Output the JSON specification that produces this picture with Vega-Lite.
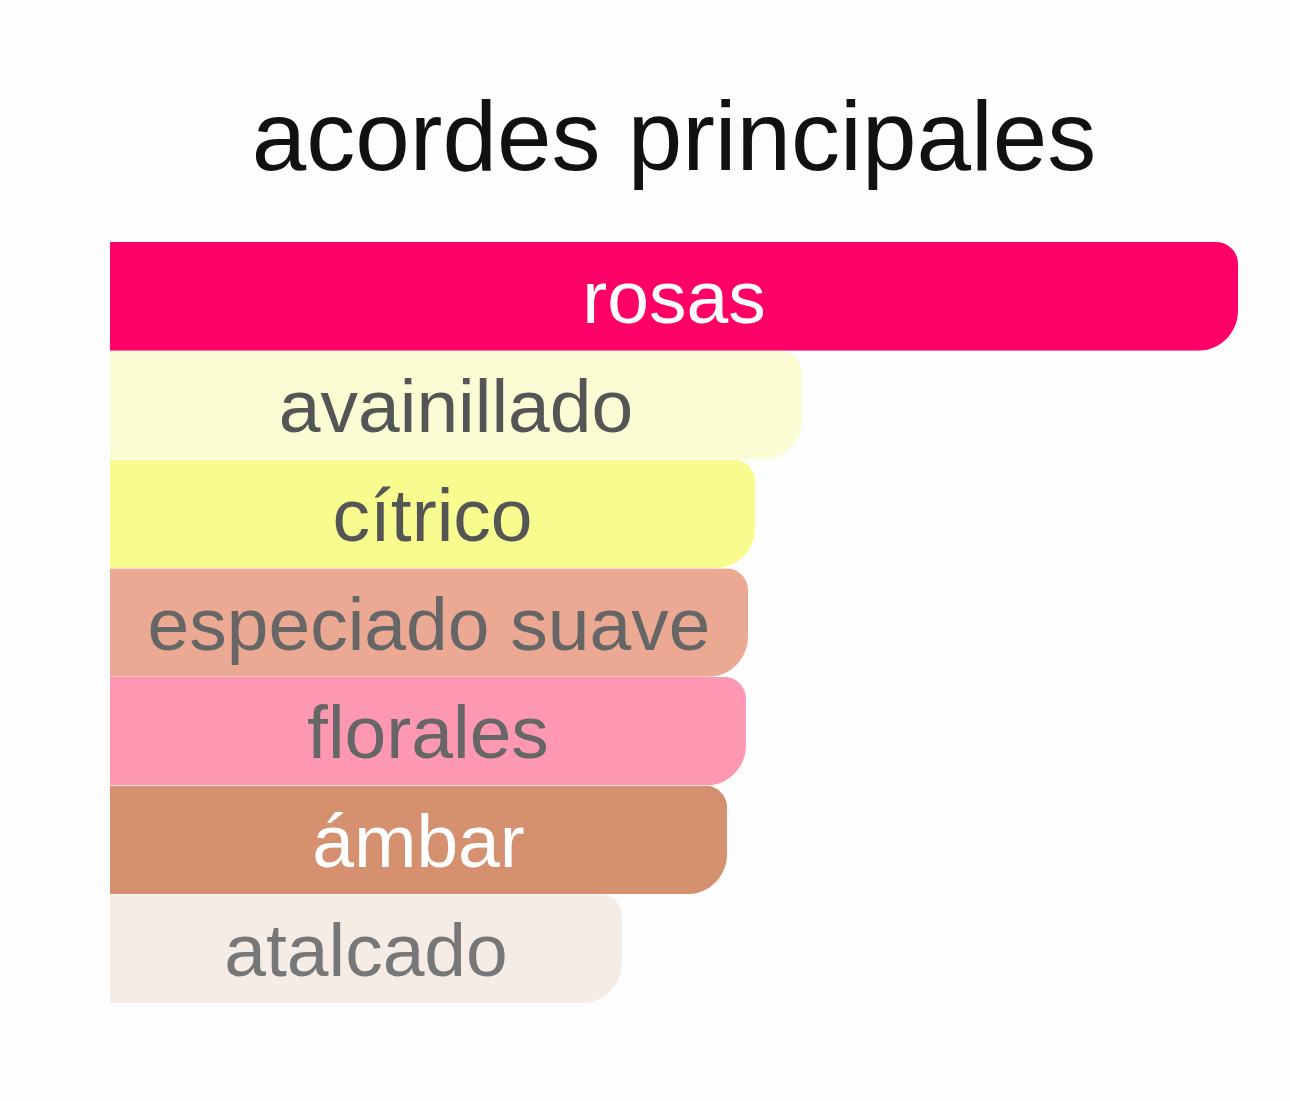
{
  "$schema": "https://vega.github.io/schema/vega-lite/v6.json",
  "autosize": "none",
  "width": 1128,
  "height": 761,
  "padding": {"left": 110, "top": 242, "right": 52, "bottom": 98},
  "background": "#fdfdfd",
  "config": {"view": {"stroke": null}, "font": "Liberation Sans"},
  "title": {
    "text": "acordes principales",
    "fontSize": 98,
    "fontWeight": "normal",
    "font": "Liberation Sans",
    "color": "#111111",
    "anchor": "middle",
    "baseline": "alphabetic",
    "offset": 69,
    "dy": 95
  },
  "data": {
    "values": [
      {"acorde": "rosas", "valor": 100, "color": "#FF0066", "texto": "#ffffff"},
      {"acorde": "avainillado", "valor": 61.35, "color": "#FBFCD4", "texto": "#555555"},
      {"acorde": "cítrico", "valor": 57.18, "color": "#F8FB8D", "texto": "#555555"},
      {"acorde": "especiado suave", "valor": 56.56, "color": "#EBA893", "texto": "#666666"},
      {"acorde": "florales", "valor": 56.38, "color": "#FE98B2", "texto": "#666666"},
      {"acorde": "ámbar", "valor": 54.7, "color": "#D5906F", "texto": "#ffffff"},
      {"acorde": "atalcado", "valor": 45.39, "color": "#F5EDE5", "texto": "#777777"}
    ]
  },
  "encoding": {
    "y": {
      "field": "acorde",
      "type": "nominal",
      "sort": null,
      "scale": {"paddingInner": 0, "paddingOuter": 0},
      "axis": null
    }
  },
  "layer": [
    {
      "mark": {"type": "bar", "cornerRadiusTopRight": 22, "cornerRadiusBottomRight": 40},
      "encoding": {
        "x": {"field": "valor", "type": "quantitative", "scale": {"domain": [0, 100], "nice": false, "zero": true}, "axis": null},
        "color": {"field": "color", "type": "nominal", "scale": null}
      }
    },
    {
      "mark": {"type": "text", "fontSize": 75, "align": "center", "baseline": "middle", "dy": 4, "font": "Liberation Sans"},
      "encoding": {
        "x": {"field": "valor", "type": "quantitative", "scale": {"domain": [0, 200], "nice": false, "zero": true}, "axis": null},
        "text": {"field": "acorde"},
        "color": {"field": "texto", "type": "nominal", "scale": null}
      }
    }
  ],
  "resolve": {"scale": {"x": "independent", "color": "independent"}}
}
